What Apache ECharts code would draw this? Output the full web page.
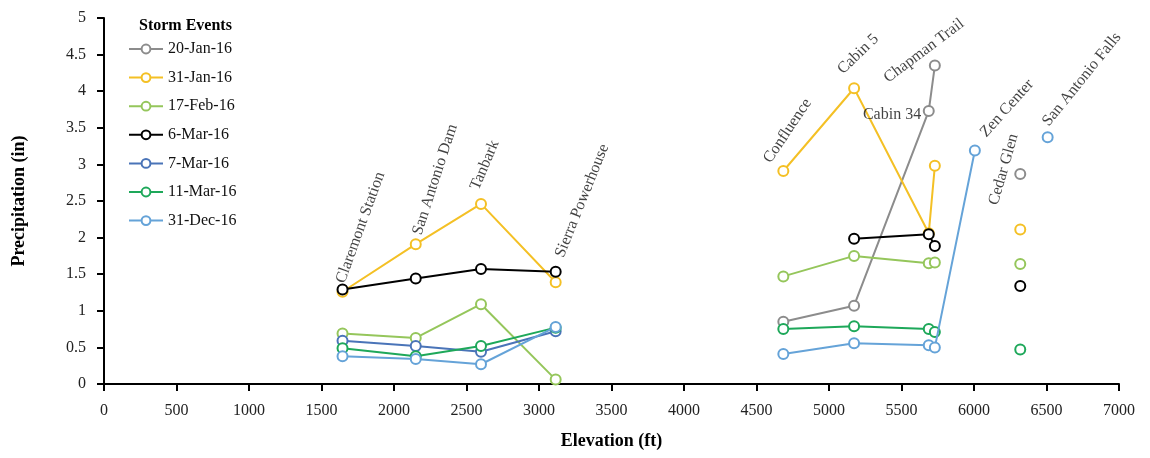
<!DOCTYPE html>
<html>
<head>
<meta charset="utf-8">
<script src="https://cdn.jsdelivr.net/npm/echarts@6/dist/echarts.min.js"></script>
<style>html,body{margin:0;padding:0;background:#fff}#c{width:1150px;height:458px}</style>
</head>
<body>
<div id="c"></div>
<script>
// Stations and elevations (ft)
const stations = ['Claremont Station','San Antonio Dam','Tanbark','Sierra Powerhouse','Confluence','Cabin 5','Cabin 34','Chapman Trail','Zen Center','Cedar Glen','San Antonio Falls'];
const elevations = [1645, 2150, 2600, 3115, 4685, 5173, 5688, 5730, 6006, 6319, 6508];
// group index: lines are not drawn between groups
const stationGroup = [0,0,0,0,1,1,1,1,1,1,1];

const eventNames = ['20-Jan-16','31-Jan-16','17-Feb-16','6-Mar-16','7-Mar-16','11-Mar-16','31-Dec-16'];
// precipitation (in) per station, null = no value
const jan20 = [null,null,null,null, 0.85,1.07,3.73,4.35,null,2.87,null];
const jan31 = [1.26,1.91,2.46,1.39, 2.91,4.04,2.06,2.98,null,2.11,null];
const feb17 = [0.69,0.63,1.09,0.06, 1.47,1.75,1.65,1.66,null,1.64,null];
const mar6  = [1.29,1.44,1.57,1.535, null,1.985,2.045,1.885,null,1.34,null];
const mar7  = [0.59,0.52,0.44,0.72, null,null,null,null,null,null,null];
const mar11 = [0.49,0.38,0.52,0.77, 0.75,0.79,0.75,0.71,null,0.47,null];
const dec31 = [0.38,0.34,0.27,0.78, 0.41,0.556,0.53,0.50,3.19,null,3.37];
const eventValues = [jan20, jan31, feb17, mar6, mar7, mar11, dec31];

const xTicks = {min:0, max:7000, interval:500};
const yTicks = {min:0, max:5, interval:0.5};

// station label anchors (elevation, precipitation) and text angle
const labelAnchorX = [1683, 2213, 2607, 3193, 4618, 5115, 5234, 5425, 6104, 6188, 6536];
const labelAnchorY = [1.35, 2.01, 2.62, 1.70, 2.98, 4.19, 3.57, 4.07, 3.33, 2.42, 3.48];
const labelAngle   = [70, 72, 67, 68, 56, 44, 0, 37, 48, 74, 51];

const colors = ['#8c8c8c','#f4c025','#95c65b','#000000','#4a74b8','#1ea85a','#65a3d8'];
const serif = 'Liberation Serif';

function buildData(vals){
  const out = [];
  for (let i = 0; i < vals.length; i++) {
    if (i > 0 && stationGroup[i] !== stationGroup[i-1]) {
      out.push([(elevations[i] + elevations[i-1]) / 2, '-']);
    }
    out.push([elevations[i], vals[i] === null ? '-' : vals[i]]);
  }
  return out;
}

const series = eventNames.map((n, k) => ({
  name: n,
  type: 'line',
  data: buildData(eventValues[k]),
  connectNulls: false,
  symbol: 'circle',
  symbolSize: 10,
  showSymbol: true,
  lineStyle: {width: 2, color: colors[k]},
  itemStyle: {color: '#fff', borderColor: colors[k], borderWidth: 2},
  color: colors[k],
  z: 2 + k
}));

series.push({
  type: 'scatter',
  name: 'labels',
  symbolSize: 0,
  silent: true,
  z: 20,
  data: stations.map((s, i) => ({
    name: s,
    value: [labelAnchorX[i], labelAnchorY[i]],
    label: {rotate: labelAngle[i]}
  })),
  label: {
    show: true,
    position: [0, 0],
    align: 'left',
    verticalAlign: 'bottom',
    formatter: p => p.name,
    fontFamily: serif,
    fontSize: 16,
    color: '#111'
  }
});

const chart = echarts.init(document.getElementById('c'), null, {renderer: 'canvas'});
chart.setOption({
  animation: false,
  color: colors,
  title: {
    text: 'Storm Events',
    left: 134, top: 13,
    textStyle: {fontFamily: serif, fontSize: 16, fontWeight: 'bold', color: '#000'}
  },
  legend: {
    data: eventNames,
    orient: 'vertical',
    left: 123, top: 36,
    itemWidth: 34, itemHeight: 11, itemGap: 12.6,
    textStyle: {fontFamily: serif, fontSize: 16, color: '#111'}
  },
  grid: {left: 104, right: 31, top: 18, bottom: 74, containLabel: false},
  xAxis: {
    type: 'value',
    min: xTicks.min, max: xTicks.max, interval: xTicks.interval,
    name: 'Elevation (ft)',
    nameLocation: 'middle', nameGap: 48,
    nameTextStyle: {fontFamily: serif, fontSize: 18, fontWeight: 'bold', color: '#000'},
    axisLine: {show: true, lineStyle: {color: '#000', width: 2}},
    axisTick: {show: true, length: 7, lineStyle: {color: '#000', width: 2}},
    axisLabel: {fontFamily: serif, fontSize: 16, color: '#222', margin: 19, formatter: v => String(v)},
    splitLine: {show: false}
  },
  yAxis: {
    type: 'value',
    min: yTicks.min, max: yTicks.max, interval: yTicks.interval,
    name: 'Precipitation (in)',
    nameLocation: 'middle', nameGap: 76,
    nameTextStyle: {fontFamily: serif, fontSize: 18, fontWeight: 'bold', color: '#000'},
    axisLine: {show: true, lineStyle: {color: '#000', width: 2}},
    axisTick: {show: true, length: 7, lineStyle: {color: '#000', width: 2}},
    axisLabel: {fontFamily: serif, fontSize: 16, color: '#222', margin: 18},
    splitLine: {show: false}
  },
  series: series
});
</script>
</body>
</html>
